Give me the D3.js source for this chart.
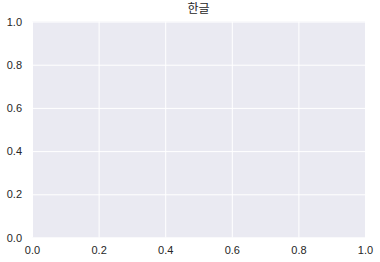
<!DOCTYPE html>
<html><head><meta charset="utf-8">
<script src="https://cdn.jsdelivr.net/npm/d3@7"></script>
<style>body{margin:0;background:#fff}</style>
</head><body>
<svg id="c" width="380" height="262"></svg>
<script>
const title = "한글";
const xDomain = [0, 1];
const yDomain = [0, 1];
const xTicks = [0, 0.2, 0.4, 0.6, 0.8, 1.0];
const yTicks = [0, 0.2, 0.4, 0.6, 0.8, 1.0];

const W = 380, H = 262;
const m = {left: 32, right: 15, top: 21.5, bottom: 24.5};
const svg = d3.select("#c");
const x = d3.scaleLinear().domain(xDomain).range([m.left, W - m.right]);
const y = d3.scaleLinear().domain(yDomain).range([H - m.bottom, m.top]);

svg.append("rect").attr("x", x(0)).attr("y", y(1))
  .attr("width", x(1) - x(0)).attr("height", y(0) - y(1)).attr("fill", "#EAEAF2");

const gx = svg.append("g").attr("transform", `translate(0,${y(0)})`)
  .call(d3.axisBottom(x).tickValues(xTicks).tickFormat(d3.format(".1f")).tickSize(-(y(0) - y(1))).tickPadding(9));
const gy = svg.append("g").attr("transform", `translate(${x(0)},0)`)
  .call(d3.axisLeft(y).tickValues(yTicks).tickFormat(d3.format(".1f")).tickSize(-(x(1) - x(0))).tickPadding(10));
[gx, gy].forEach(g => {
  g.select(".domain").remove();
  g.selectAll(".tick line").attr("stroke", "#fff").attr("stroke-width", 1);
  g.selectAll(".tick text").attr("fill", "#262626")
    .style("font-family", "'Liberation Sans', Arial, sans-serif").style("font-size", "11px");
});

svg.append("text").attr("x", (x(0) + x(1)) / 2).attr("y", 12.5)
  .attr("text-anchor", "middle").attr("fill", "#262626")
  .style("font-family", "'Noto Sans CJK KR', sans-serif").style("font-size", "12px")
  .text(title);
</script>
</body></html>
